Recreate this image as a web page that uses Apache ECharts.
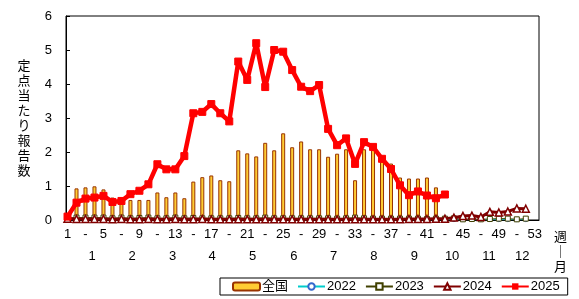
<!DOCTYPE html>
<html><head><meta charset="utf-8">
<script src="https://cdn.jsdelivr.net/npm/echarts@6/dist/echarts.min.js"></script>
<style>html,body{margin:0;padding:0;background:#fff}#c{width:579px;height:299px}</style>
</head><body><div id="c"></div>
<script>
// week numbers 1..53
const weeks = Array.from({length: 53}, (_, i) => i + 1);
const weekTicks = [1,3,5,7,9,11,13,15,17,19,21,23,25,27,29,31,33,35,37,39,41,43,45,47,49,51,53];
const monthPos = [3.74, 8.2, 12.7, 17.1, 21.6, 26.2, 30.6, 35.1, 39.6, 43.8, 47.9, 51.6];
const monthLabels = ['1','2','3','4','5','6','7','8','9','10','11','12'];

// 全国 (bars), weeks 1..42
const national = [null,0.93,0.96,0.99,0.90,0.66,0.58,0.59,0.59,0.59,0.81,0.67,0.81,0.64,1.13,1.26,1.31,1.17,1.14,2.05,1.96,1.87,2.27,2.05,2.55,2.14,2.31,2.08,2.08,1.86,1.95,2.08,1.17,2.08,2.06,1.72,1.66,1.25,1.22,1.22,1.25,0.96];
// 2022 weeks 1..52
const y2022 = [0.01,0.01,0.01,0.01,0.01,0.01,0.01,0.01,0.01,0.01,0.01,0.01,0.01,0.01,0.01,0.01,0.01,0.01,0.01,0.01,0.01,0.01,0.01,0.01,0.01,0.01,0.01,0.01,0.01,0.01,0.01,0.01,0.01,0.01,0.01,0.01,0.01,0.01,0.01,0.01,0.01,0.01,0.01,0.01,0.01,0.01,0.01,0.01,0.01,0.01,0.01,0.01];
// 2023 weeks 1..52
const y2023 = [0.06,0.07,0.07,0.07,0.07,0.05,0.07,0.05,0.06,0.07,0.05,0.05,0.07,0.05,0.06,0.05,0.05,0.05,0.05,0.06,0.05,0.05,0.07,0.05,0.05,0.05,0.05,0.05,0.05,0.05,0.04,0.05,0.07,0.05,0.04,0.04,0.04,0.04,0.04,0.04,0.03,0.04,0.04,0.05,0.02,0.03,0.02,0.03,0.04,0.04,0.02,0.04];
// 2024 weeks 1..52
const y2024 = [0.04,0.03,0.03,0.03,0.03,0.02,0.03,0.02,0.02,0.03,0.02,0.02,0.03,0.02,0.02,0.03,0.02,0.02,0.02,0.02,0.02,0.02,0.02,0.02,0.02,0.02,0.02,0.02,0.02,0.02,0.02,0.02,0.02,0.02,0.02,0.02,0.02,0.02,0.03,0.03,0.03,0.04,0.04,0.07,0.12,0.13,0.09,0.24,0.22,0.25,0.34,0.33];
// 2025 weeks 1..43
const y2025 = [0.10,0.51,0.63,0.66,0.71,0.53,0.56,0.76,0.86,1.05,1.64,1.49,1.49,1.88,3.14,3.18,3.41,3.14,2.90,4.66,4.12,5.20,3.91,5.00,4.95,4.41,3.92,3.79,3.97,2.68,2.20,2.40,1.65,2.29,2.15,1.80,1.50,1.02,0.73,0.84,0.72,0.64,0.75];

const pair = arr => arr.map((v, i) => [weeks[i], v]);
const FONT = "'Liberation Sans','Noto Sans CJK JP',sans-serif";

const chart = echarts.init(document.getElementById('c'));
chart.setOption({
  animation: false,
  textStyle: {fontFamily: FONT, color: '#000'},
  title: {
    text: '週\n｜\n月', left: 554, top: 229, padding: 0,
    textStyle: {fontSize: 13, fontWeight: 'normal', lineHeight: 15, color: '#000', fontFamily: "'Noto Sans CJK JP',sans-serif"}
  },
  legend: {
    left: 220, top: 278, width: 420, padding: [2, 8, 2, 12],
    borderColor: '#000', borderWidth: 1,
    itemWidth: 27, itemHeight: 8, itemGap: 9,
    textStyle: {fontSize: 13, color: '#000', fontFamily: FONT, padding: [0, 0, 0, -3]},
    data: ['全国', '2022', '2023', '2024', '2025']
  },
  grid: {left: 66, right: 40, top: 16, bottom: 79, show: true, borderColor: '#000', borderWidth: 1},
  xAxis: [
    {
      type: 'value', min: 0.83, max: 53.47, position: 'bottom',
      axisLine: {lineStyle: {color: '#000', width: 1}},
      axisTick: {show: false}, splitLine: {show: false},
      axisLabel: {
        customValues: weekTicks, margin: 8, fontSize: 13, color: '#000',
        formatter: v => ((v - 1) % 4 === 0 ? String(v) : '-')
      }
    },
    {
      type: 'value', min: 0.83, max: 53.47, position: 'bottom', offset: 22,
      axisLine: {show: false}, axisTick: {show: false}, splitLine: {show: false},
      axisLabel: {
        customValues: monthPos, margin: 8, fontSize: 13, color: '#000',
        formatter: v => monthLabels[monthPos.indexOf(v)]
      }
    }
  ],
  yAxis: {
    type: 'value', min: 0, max: 6, interval: 1,
    name: '定\n点\n当\nた\nり\n報\n告\n数', nameLocation: 'middle', nameRotate: 0, nameGap: 42,
    nameTextStyle: {fontSize: 13, lineHeight: 15, align: 'center', verticalAlign: 'middle', color: '#000', fontFamily: "'Noto Sans CJK JP',sans-serif"},
    axisLine: {show: true, lineStyle: {color: '#000'}},
    axisTick: {show: true, inside: true, length: 4, lineStyle: {color: '#000'}},
    splitLine: {show: false},
    axisLabel: {fontSize: 13, color: '#000', margin: 14}
  },
  series: [
    {
      name: '全国', type: 'bar', barWidth: 4, data: pair(national), z: 1,
      itemStyle: {color: '#FFCC33', borderColor: '#993300', borderWidth: 1}
    },
    {
      name: '2022', type: 'line', data: pair(y2022), z: 2,
      lineStyle: {color: '#00CCCC', width: 1}, symbol: 'circle', symbolSize: 4,
      itemStyle: {color: '#fff', borderColor: '#3366CC', borderWidth: 1}
    },
    {
      name: '2023', type: 'line', data: pair(y2023), z: 3,
      lineStyle: {color: '#404000', width: 1}, symbol: 'rect', symbolSize: 5,
      itemStyle: {color: '#fff', borderColor: '#404000', borderWidth: 1}
    },
    {
      name: '2024', type: 'line', data: pair(y2024), z: 4,
      lineStyle: {color: '#800000', width: 3}, symbol: 'triangle', symbolSize: 7,
      itemStyle: {color: '#fff', borderColor: '#800000', borderWidth: 1.5}
    },
    {
      name: '2025', type: 'line', data: pair(y2025), z: 5,
      lineStyle: {color: '#FF0000', width: 4.5}, symbol: 'rect', symbolSize: 7,
      itemStyle: {color: '#FF0000', borderColor: '#FF0000'}
    }
  ]
});
</script></body></html>
